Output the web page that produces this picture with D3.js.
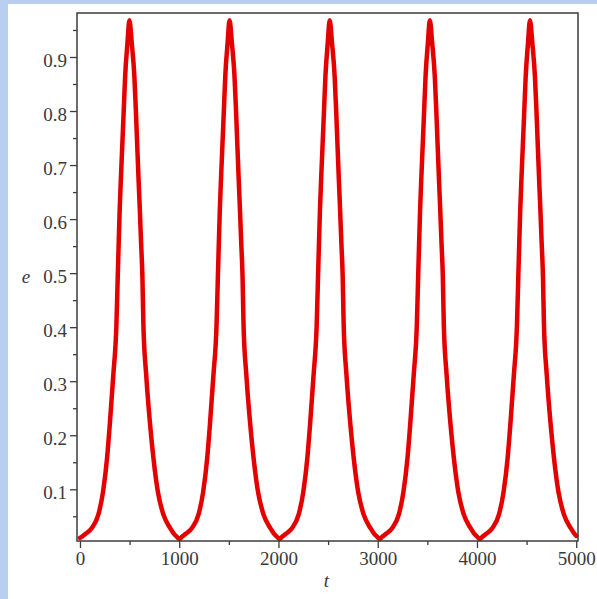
<!DOCTYPE html>
<html>
<head>
<meta charset="utf-8">
<script src="https://cdn.jsdelivr.net/npm/d3@7"></script>
<style>
  html, body { margin: 0; padding: 0; background: #b9cff2; }
  svg { display: block; }
</style>
</head>
<body>
<script>
// ---- data ----
const tValues = [
  0, 17, 60, 118, 185, 232, 273, 300, 336, 367, 381, 390, 400, 413, 427, 441, 455, 478, 498,
  522, 548, 563, 576, 589, 603, 616, 629, 639, 667, 707, 740, 785, 841, 909, 945, 977, 1003,
  1026, 1069, 1127, 1194, 1241, 1282, 1309, 1345, 1376, 1390, 1399, 1409, 1422, 1436, 1450, 1464, 1487, 1507,
  1531, 1557, 1572, 1585, 1598, 1612, 1625, 1638, 1648, 1676, 1716, 1749, 1794, 1850, 1918, 1954, 1986, 2012,
  2035, 2078, 2136, 2203, 2250, 2291, 2318, 2354, 2385, 2399, 2408, 2418, 2431, 2445, 2459, 2473, 2496, 2516,
  2540, 2566, 2581, 2594, 2607, 2621, 2634, 2647, 2657, 2685, 2725, 2758, 2803, 2859, 2927, 2963, 2995, 3021,
  3044, 3087, 3145, 3212, 3259, 3300, 3327, 3363, 3394, 3408, 3417, 3427, 3440, 3454, 3468, 3482, 3505, 3525,
  3549, 3575, 3590, 3603, 3616, 3630, 3643, 3656, 3666, 3694, 3734, 3767, 3812, 3868, 3936, 3972, 4004, 4030,
  4053, 4096, 4154, 4221, 4268, 4309, 4336, 4372, 4403, 4417, 4426, 4436, 4449, 4463, 4477, 4491, 4514, 4534,
  4558, 4584, 4599, 4612, 4625, 4639, 4652, 4665, 4675, 4703, 4743, 4776, 4821, 4877, 4945, 4981, 5000
];
const eValues = [
  0.010, 0.012, 0.018, 0.028, 0.053, 0.095, 0.158, 0.219, 0.312, 0.404, 0.497, 0.555, 0.617, 0.679, 0.740, 0.802, 0.864, 0.925, 0.968,
  0.925, 0.864, 0.802, 0.740, 0.679, 0.617, 0.555, 0.494, 0.404, 0.312, 0.219, 0.158, 0.095, 0.053, 0.028, 0.018, 0.012, 0.008,
  0.012, 0.018, 0.028, 0.053, 0.095, 0.158, 0.219, 0.312, 0.404, 0.497, 0.555, 0.617, 0.679, 0.740, 0.802, 0.864, 0.925, 0.968,
  0.925, 0.864, 0.802, 0.740, 0.679, 0.617, 0.555, 0.494, 0.404, 0.312, 0.219, 0.158, 0.095, 0.053, 0.028, 0.018, 0.012, 0.008,
  0.012, 0.018, 0.028, 0.053, 0.095, 0.158, 0.219, 0.312, 0.404, 0.497, 0.555, 0.617, 0.679, 0.740, 0.802, 0.864, 0.925, 0.968,
  0.925, 0.864, 0.802, 0.740, 0.679, 0.617, 0.555, 0.494, 0.404, 0.312, 0.219, 0.158, 0.095, 0.053, 0.028, 0.018, 0.012, 0.008,
  0.012, 0.018, 0.028, 0.053, 0.095, 0.158, 0.219, 0.312, 0.404, 0.497, 0.555, 0.617, 0.679, 0.740, 0.802, 0.864, 0.925, 0.968,
  0.925, 0.864, 0.802, 0.740, 0.679, 0.617, 0.555, 0.494, 0.404, 0.312, 0.219, 0.158, 0.095, 0.053, 0.028, 0.018, 0.012, 0.008,
  0.012, 0.018, 0.028, 0.053, 0.095, 0.158, 0.219, 0.312, 0.404, 0.497, 0.555, 0.617, 0.679, 0.740, 0.802, 0.864, 0.925, 0.968,
  0.925, 0.864, 0.802, 0.740, 0.679, 0.617, 0.555, 0.494, 0.404, 0.312, 0.219, 0.158, 0.095, 0.053, 0.028, 0.018, 0.014
];
const xTicks = [0, 1000, 2000, 3000, 4000, 5000];
const xMinorTicks = [500, 1500, 2500, 3500, 4500];
const yTicks = [0.1, 0.2, 0.3, 0.4, 0.5, 0.6, 0.7, 0.8, 0.9];
const yMinorTicks = [0.05, 0.15, 0.25, 0.35, 0.45, 0.55, 0.65, 0.75, 0.85, 0.95];
const xLabel = "t";
const yLabel = "e";

// ---- drawing ----
const W = 597, H = 599;
const plot = { left: 77, right: 578, top: 13, bottom: 541 };
const fontFamily = "'Liberation Serif', 'Times New Roman', serif";

const svg = d3.select("body").append("svg").attr("width", W).attr("height", H);

svg.append("rect").attr("x", 0).attr("y", 0).attr("width", W).attr("height", H).attr("fill", "#b9cff2");
svg.append("rect").attr("x", 8).attr("y", 4).attr("width", W - 8).attr("height", H - 4).attr("fill", "#ffffff");

const x = d3.scaleLinear().domain([-30, 5018]).range([plot.left, plot.right]);
const y = d3.scaleLinear().domain([0.0043, 0.9814]).range([plot.bottom, plot.top]);

const data = tValues.map((t, i) => ({ t, e: eValues[i] }));

// curve
svg.append("path")
  .datum(data)
  .attr("fill", "none")
  .attr("stroke", "#e50000")
  .attr("stroke-width", 4.5)
  .attr("stroke-linejoin", "round")
  .attr("stroke-linecap", "round")
  .attr("d", d3.line().curve(d3.curveMonotoneX).x(d => x(d.t)).y(d => y(d.e)));

// frame
svg.append("rect")
  .attr("x", plot.left).attr("y", plot.top)
  .attr("width", plot.right - plot.left).attr("height", plot.bottom - plot.top)
  .attr("fill", "none").attr("stroke", "#3c3c3c").attr("stroke-width", 1.5);

// axes
const axisColor = "#3c3c3c";
function styleAxis(g) {
  g.select(".domain").remove();
  g.selectAll(".tick line").attr("stroke", axisColor).attr("stroke-width", 1.3);
  g.selectAll(".tick text").attr("fill", "#3a3a3a").style("font-family", fontFamily).style("font-size", "19px");
}

const gx = svg.append("g").attr("transform", `translate(0,${plot.bottom})`)
  .call(d3.axisBottom(x).tickValues(xTicks).tickSize(7).tickPadding(4).tickFormat(d3.format("d")));
styleAxis(gx);
const gxm = svg.append("g").attr("transform", `translate(0,${plot.bottom})`)
  .call(d3.axisBottom(x).tickValues(xMinorTicks).tickSize(4).tickFormat(""));
styleAxis(gxm);

const gy = svg.append("g").attr("transform", `translate(${plot.left},0)`)
  .call(d3.axisLeft(y).tickValues(yTicks).tickSize(7).tickPadding(3).tickFormat(d3.format(".1f")));
styleAxis(gy);
gy.selectAll(".tick text").attr("dy", "0.5em");
const gym = svg.append("g").attr("transform", `translate(${plot.left},0)`)
  .call(d3.axisLeft(y).tickValues(yMinorTicks).tickSize(4).tickFormat(""));
styleAxis(gym);

// axis labels
svg.append("text")
  .attr("x", (plot.left + plot.right) / 2 - 1).attr("y", 587)
  .attr("text-anchor", "middle")
  .style("font-family", fontFamily).style("font-size", "19px").style("font-style", "italic")
  .attr("fill", "#3a3a3a")
  .text(xLabel);
svg.append("text")
  .attr("x", 26).attr("y", 283)
  .attr("text-anchor", "middle")
  .style("font-family", fontFamily).style("font-size", "19px").style("font-style", "italic")
  .attr("fill", "#3a3a3a")
  .text(yLabel);
</script>
</body>
</html>
